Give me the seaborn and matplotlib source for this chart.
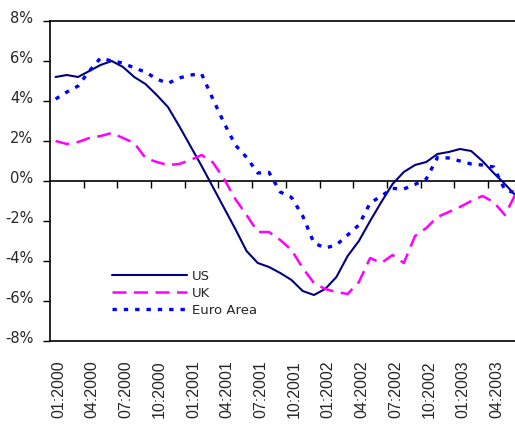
import matplotlib
matplotlib.use('Agg')
import matplotlib.pyplot as plt
import matplotlib.transforms as mtransforms
import seaborn as sns
import pandas as pd
import numpy as np

# ---- data (monthly, 01:2000 onwards) ----
month_index = list(range(42))
us = [5.2, 5.3, 5.2, 5.5, 5.8, 6.0, 5.7, 5.2, 4.85, 4.3, 3.7, 2.75, 1.75, 0.75,
      -0.3, -1.35, -2.4, -3.5, -4.1, -4.3, -4.6, -4.95, -5.5, -5.7, -5.4, -4.8,
      -3.75, -3.0, -2.0, -1.05, -0.15, 0.45, 0.8, 0.95, 1.35, 1.45, 1.6, 1.5,
      1.0, 0.4, -0.15, -0.75]
uk = [2.0, 1.85, 1.95, 2.15, 2.25, 2.4, 2.15, 1.9, 1.15, 0.95, 0.8, 0.85, 1.05,
      1.3, 0.93, 0.1, -0.9, -1.7, -2.55, -2.55, -2.95, -3.45, -4.35, -5.1, -5.4,
      -5.55, -5.65, -5.05, -3.85, -4.1, -3.7, -4.1, -2.75, -2.35, -1.8, -1.55,
      -1.3, -1.0, -0.75, -1.05, -1.7, -0.6]
euro = [4.1, 4.45, 4.75, 5.5, 6.15, 6.0, 5.9, 5.65, 5.45, 5.1, 4.88, 5.15, 5.3,
        5.35, 4.1, 2.9, 1.8, 1.18, 0.4, 0.43, -0.55, -0.82, -1.75, -3.1, -3.35,
        -3.2, -2.7, -2.2, -1.1, -0.75, -0.37, -0.4, -0.17, 0.1, 1.18, 1.15, 1.0,
        0.85, 0.8, 0.7, -0.45, -0.6]
tick_labels = ['01:2000', '04:2000', '07:2000', '10:2000', '01:2001', '04:2001',
               '07:2001', '10:2001', '01:2002', '04:2002', '07:2002', '10:2002',
               '01:2003', '04:2003']
yticks = [-8, -6, -4, -2, 0, 2, 4, 6, 8]

sns.set_style('white')
plt.rcParams['font.family'] = ['DejaVu Sans']

fig = plt.figure(figsize=(5.15, 4.27), dpi=100)
ax = fig.add_axes([50/515, 1 - 342/427, 465/515, 320/427])

df = pd.DataFrame({'idx': month_index, 'US': us, 'UK': uk, 'Euro Area': euro})
sns.lineplot(data=df, x='idx', y='US', color='#000080', lw=1.5, ax=ax, label='US')
sns.lineplot(data=df, x='idx', y='UK', color='#FF00FF', lw=1.8,
             linestyle=(0, (5.6, 3.0)), ax=ax, label='UK')
sns.lineplot(data=df, x='idx', y='Euro Area', color='#0000FF', lw=2.4,
             linestyle=(0, (1.3, 2.1)), dash_capstyle='butt', ax=ax, label='Euro Area')

ax.set_xlim(-0.5, 40.9)
ax.set_ylim(-8, 8)
ax.set_xlabel('')
ax.set_ylabel('')

ax.set_xticks(month_index[::3])
ax.set_xticklabels(tick_labels, rotation=90, fontfamily='Liberation Sans', fontsize=11.5)
ax.tick_params(axis='x', length=0, pad=13)
xoff = mtransforms.ScaledTranslation(3/100, 0, fig.dpi_scale_trans)
for lab in ax.get_xticklabels():
    lab.set_transform(lab.get_transform() + xoff)

ax.set_yticks(yticks)
ax.set_yticklabels([f"{v}%" for v in yticks], fontsize=10.5)
ax.tick_params(axis='y', left=True, length=5, width=1, direction='out', pad=7, color='black')
offset = mtransforms.ScaledTranslation(0, 5/100, fig.dpi_scale_trans)
for lab in ax.get_yticklabels():
    lab.set_transform(lab.get_transform() + offset)

for side in ['left', 'top', 'bottom']:
    ax.spines[side].set_visible(True)
    ax.spines[side].set_color('black')
    ax.spines[side].set_linewidth(1.2)
ax.spines['right'].set_visible(False)

sec = ax.secondary_xaxis(0.5)
sec.set_alignment('bottom')
sec.set_xticks(np.arange(2.5, 41, 3))
sec.set_xticklabels([])
sec.tick_params(length=5, width=1, direction='out', color='black')
sec.spines['bottom'].set_linewidth(1.2)
sec.spines['bottom'].set_color('black')

ax.legend(loc='upper left', bbox_to_anchor=(0.133, 0.224), frameon=False, fontsize=9.5,
          handlelength=5.7, handletextpad=0.4, labelspacing=0.3, borderpad=0,
          borderaxespad=0)

fig.savefig('out.png', dpi=100)
